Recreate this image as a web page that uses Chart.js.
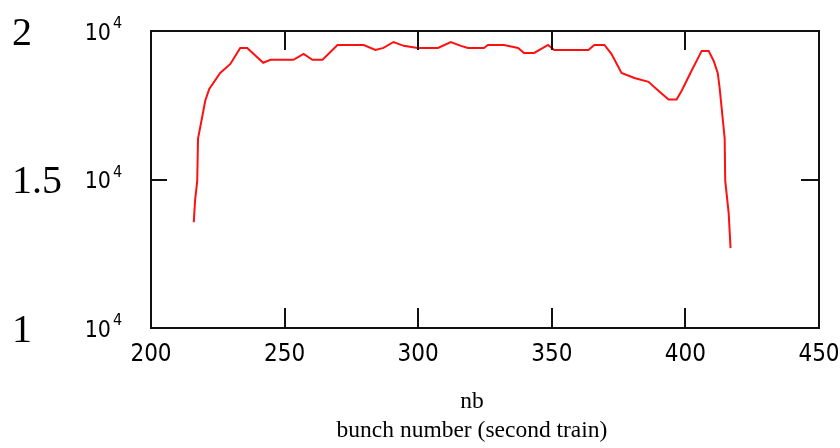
<!DOCTYPE html>
<html>
<head>
<meta charset="utf-8">
<script src="https://cdn.jsdelivr.net/npm/chart.js@4.4.1/dist/chart.umd.min.js"></script>
<style>
  body { margin: 0; background: #fff; }
  #plot { display: block; }
</style>
</head>
<body>
<canvas id="plot" width="840" height="448"></canvas>
<script>
// bunch number along the second train
const nb = [216, 216.5, 217.3, 217.6, 219.1, 220.3, 221.8, 225.9, 229.7, 233.4,
    236, 242, 244.7, 253.3, 257.1, 260.4, 264.2, 269.8, 279.6, 284,
    287, 290.8, 294.6, 299.8, 307.4, 312.2, 316, 318.6, 324.6, 326.1,
    332.1, 337.4, 339.6, 343.4, 348.6, 350.9, 363.7, 365.9, 369.7, 372.3,
    376.1, 380.9, 386.2, 389.9, 393.7, 396.7, 398.6, 402.3, 406.1, 408.7,
    410.6, 412.1, 412.8, 413.6, 414.7, 414.9, 416.2, 416.9];
const bunchValue = [13560, 14300, 14950, 16380, 17080, 17650, 18050, 18590, 18890, 19430,
    19430, 18930, 19030, 19030, 19230, 19030, 19030, 19530, 19530, 19360,
    19430, 19630, 19500, 19430, 19430, 19630, 19500, 19430, 19430, 19530,
    19530, 19430, 19260, 19260, 19530, 19360, 19360, 19530, 19530, 19230,
    18590, 18420, 18290, 17990, 17690, 17690, 17990, 18660, 19330, 19330,
    18990, 18590, 18090, 17380, 16380, 14970, 13860, 12690];

const xTicks = [200, 250, 300, 350, 400, 450];
const yTicks = [10000, 15000, 20000];
const xTitle = ['nb', 'bunch number (second train)'];

const narrow = '"Liberation Sans Narrow", "DejaVu Sans Condensed", sans-serif';
const serif = '"Liberation Serif", "DejaVu Serif", serif';

// frame, inward ticks, y labels (mantissa + 10^4) and the x caption
const framePlugin = {
    id: 'frame',
    afterDraw(chart) {
        const ctx = chart.ctx;
        const a = chart.chartArea;
        const xs = chart.scales.x, ys = chart.scales.y;
        ctx.save();
        ctx.strokeStyle = '#111';
        ctx.lineWidth = 2;
        ctx.strokeRect(a.left, a.top, a.right - a.left, a.bottom - a.top);

        ctx.beginPath();
        xTicks.forEach(v => {
            const px = Math.round(xs.getPixelForValue(v));
            ctx.moveTo(px, a.top); ctx.lineTo(px, a.top + 19);
            ctx.moveTo(px, a.bottom); ctx.lineTo(px, a.bottom - 20);
        });
        yTicks.forEach(v => {
            const py = Math.round(ys.getPixelForValue(v));
            ctx.moveTo(a.left, py); ctx.lineTo(a.left + 16, py);
            ctx.moveTo(a.right, py); ctx.lineTo(a.right - 18, py);
        });
        ctx.stroke();

        ctx.fillStyle = '#000';
        yTicks.forEach(v => {
            const py = ys.getPixelForValue(v);
            ctx.font = '40px ' + serif;
            ctx.textAlign = 'left';
            ctx.textBaseline = 'middle';
            ctx.fillText(String(v / 10000), 12, py + 3);
            ctx.font = '23px ' + narrow;
            ctx.textAlign = 'right';
            ctx.fillText('10', 111, py + 3);
            ctx.font = '16px ' + narrow;
            ctx.textAlign = 'left';
            ctx.fillText('4', 113, py - 7);
        });

        ctx.font = '23.5px ' + serif;
        ctx.textAlign = 'center';
        ctx.textBaseline = 'middle';
        ctx.fillText(xTitle[0], 472, 402);
        ctx.fillText(xTitle[1], 472, 431);
        ctx.restore();
    }
};

new Chart(document.getElementById('plot'), {
    type: 'scatter',
    data: {
        datasets: [{
            data: nb.map((x, i) => ({ x: x, y: bunchValue[i] })),
            showLine: true,
            borderColor: '#ff1010',
            borderWidth: 2,
            pointRadius: 0,
            tension: 0
        }]
    },
    options: {
        responsive: false,
        animation: false,
        layout: { padding: { top: 31, right: 21, left: 0, bottom: 0 } },
        plugins: { legend: { display: false }, tooltip: { enabled: false } },
        scales: {
            x: {
                type: 'linear',
                min: 200,
                max: 450,
                afterBuildTicks: s => { s.ticks = xTicks.map(v => ({ value: v })); },
                afterFit: s => { s.height = 120; s.paddingLeft = 0; s.paddingRight = 0; },
                grid: { display: false, drawTicks: false },
                border: { display: false },
                ticks: {
                    color: '#000',
                    padding: 12,
                    maxRotation: 0,
                    font: { family: narrow, size: 24 }
                }
            },
            y: {
                type: 'linear',
                min: 10000,
                max: 20000,
                afterBuildTicks: s => { s.ticks = yTicks.map(v => ({ value: v })); },
                afterFit: s => { s.width = 151; s.paddingTop = 0; s.paddingBottom = 0; },
                grid: { display: false, drawTicks: false },
                border: { display: false },
                ticks: { display: false }
            }
        }
    },
    plugins: [framePlugin]
});
</script>
</body>
</html>
